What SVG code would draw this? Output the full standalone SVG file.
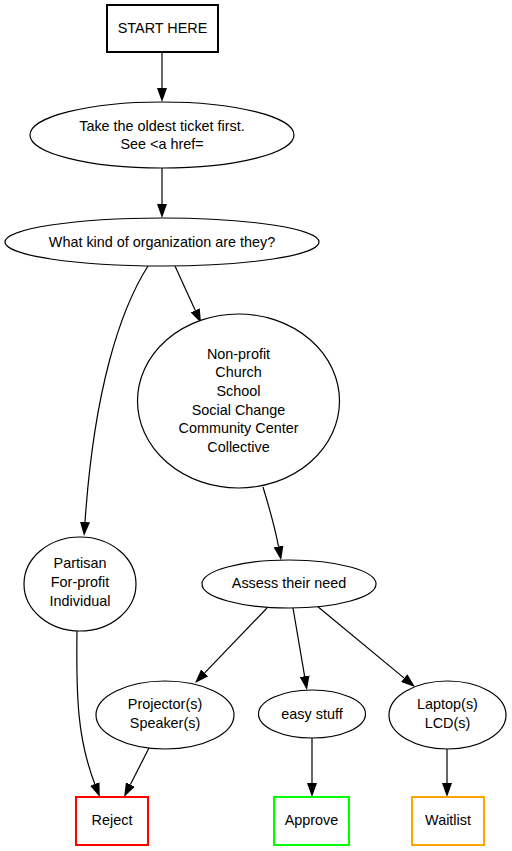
<svg xmlns="http://www.w3.org/2000/svg" width="512" height="851" viewBox="0 0 512 851">
<style>
text{font-family:"Liberation Sans",Arial,sans-serif;font-size:14.4px;text-anchor:middle;fill:#000}
.n{fill:#fff;stroke:#000;stroke-width:1.2}
.e{fill:none;stroke:#000;stroke-width:1.2}
.b{fill:#fff;stroke-width:2}
</style>
<defs>
<marker id="ah" viewBox="0 0 14 10" refX="0" refY="5" markerWidth="14" markerHeight="10" markerUnits="userSpaceOnUse" orient="auto">
<path d="M0,0 L14,5 L0,10 z" fill="#000"/>
</marker>
</defs>
<rect width="512" height="851" fill="#fff"/>
<g id="edges">
<path class="e" marker-end="url(#ah)" d="M162,53 L162,88"/>
<path class="e" marker-end="url(#ah)" d="M162,168 L162,204"/>
<path class="e" marker-end="url(#ah)" d="M148,266 C120,310 94,390 85,522"/>
<path class="e" marker-end="url(#ah)" d="M175,266 L195.2,310.3"/>
<path class="e" marker-end="url(#ah)" d="M263,487 C270,510 275,528 278.5,546.4"/>
<path class="e" marker-end="url(#ah)" d="M267,608 L204.7,672.9"/>
<path class="e" marker-end="url(#ah)" d="M293,608 L304.6,676.2"/>
<path class="e" marker-end="url(#ah)" d="M317,606 L404.2,678.1"/>
<path class="e" marker-end="url(#ah)" d="M149,748 L130.4,784.5"/>
<path class="e" marker-end="url(#ah)" d="M77,631 C76,700 78,740 94.8,784"/>
<path class="e" marker-end="url(#ah)" d="M312,738 L312,783"/>
<path class="e" marker-end="url(#ah)" d="M447,749 L447,783"/>
</g>
<g id="start">
<rect x="107" y="5" width="111" height="47" fill="#fff" stroke="#000" stroke-width="2"/>
<text x="162.5" y="33">START HERE</text>
</g>
<g id="oldest">
<ellipse class="n" cx="162" cy="135" rx="132" ry="33"/>
<text x="162" y="131">Take the oldest ticket first.</text>
<text x="162" y="149">See &lt;a href=</text>
</g>
<g id="kind">
<ellipse class="n" cx="162" cy="242" rx="157" ry="24"/>
<text x="162" y="247">What kind of organization are they?</text>
</g>
<g id="nonprofit">
<ellipse class="n" cx="238.5" cy="401" rx="101" ry="87"/>
<text x="238.5" y="359">Non-profit</text>
<text x="238.5" y="377">Church</text>
<text x="238.5" y="396">School</text>
<text x="238.5" y="415">Social Change</text>
<text x="238.5" y="433">Community Center</text>
<text x="238.5" y="452">Collective</text>
</g>
<g id="partisan">
<ellipse class="n" cx="80" cy="584" rx="56" ry="47"/>
<text x="80" y="568">Partisan</text>
<text x="80" y="587">For-profit</text>
<text x="80" y="606">Individual</text>
</g>
<g id="assess">
<ellipse class="n" cx="289" cy="584" rx="87" ry="24"/>
<text x="289" y="588">Assess their need</text>
</g>
<g id="projector">
<ellipse class="n" cx="165" cy="715" rx="69" ry="34"/>
<text x="165" y="709">Projector(s)</text>
<text x="165" y="728">Speaker(s)</text>
</g>
<g id="easy">
<ellipse class="n" cx="312" cy="714" rx="53.5" ry="24"/>
<text x="312" y="719">easy stuff</text>
</g>
<g id="laptop">
<ellipse class="n" cx="447.5" cy="715" rx="58.5" ry="34"/>
<text x="447.5" y="709">Laptop(s)</text>
<text x="447.5" y="728">LCD(s)</text>
</g>
<g id="reject">
<rect class="b" x="76" y="797" width="72" height="48" stroke="#ff0000"/>
<text x="112" y="825">Reject</text>
</g>
<g id="approve">
<rect class="b" x="274" y="797" width="75" height="48" stroke="#00ff00"/>
<text x="311.5" y="825">Approve</text>
</g>
<g id="waitlist">
<rect class="b" x="412" y="797" width="72" height="48" stroke="#ffa500"/>
<text x="448" y="825">Waitlist</text>
</g>
</svg>
